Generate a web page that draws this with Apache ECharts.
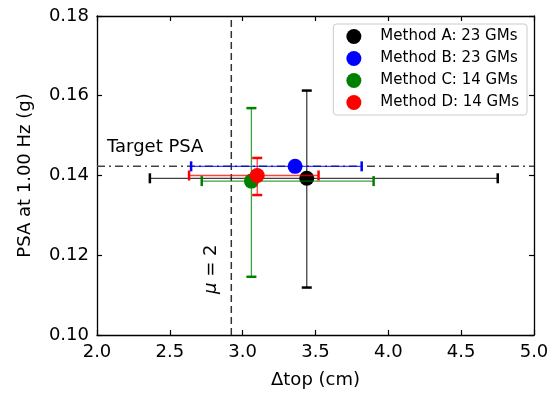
<!DOCTYPE html>
<html><head><meta charset="utf-8">
<script src="https://cdn.jsdelivr.net/npm/echarts@6/dist/echarts.min.js"></script>
<style>html,body{margin:0;padding:0;background:#fff}#c{width:558px;height:394px}</style>
</head><body><div id="c"></div>
<script>
// Data
const methods = ['Method A: 23 GMs','Method B: 23 GMs','Method C: 14 GMs','Method D: 14 GMs'];
const colors = ['#000000','#0000ff','#008000','#ff0000'];
const xVals = [3.44, 3.36, 3.06, 3.10];
const yVals = [0.1393, 0.1423, 0.1386, 0.1400];
const xLow  = [2.363, 2.646, 2.719, 2.632];
const xHigh = [4.751, 3.817, 3.899, 3.521];
const yLow  = [0.1119, 0.1423, 0.1146, 0.1351];
const yHigh = [0.1613, 0.1423, 0.1569, 0.1444];
const targetPSA = 0.1423;
const mu2 = 2.922;
const xRange = [2.0, 5.0];
const yRange = [0.10, 0.18];

const FONT = 'DejaVu Sans';
const chart = echarts.init(document.getElementById('c'));

function errSeries(i){
  return {
    type:'custom', name: methods[i]+'_err', z: 2+i*2, silent:true,
    data:[[xVals[i], yVals[i], xLow[i], xHigh[i], yLow[i], yHigh[i]]],
    encode:{x:[0,2,3], y:[1,4,5]},
    renderItem:function(params, api){
      const c = api.coord([api.value(0), api.value(1)]);
      const l = api.coord([api.value(2), api.value(1)]);
      const r = api.coord([api.value(3), api.value(1)]);
      const b = api.coord([api.value(0), api.value(4)]);
      const t = api.coord([api.value(0), api.value(5)]);
      const cap = 5;
      const ls = {stroke: colors[i], lineWidth:1.3, opacity:0.75};
      const cs = {stroke: colors[i], lineWidth:2.5};
      const ch = [
        {type:'line', shape:{x1:l[0],y1:c[1],x2:r[0],y2:c[1]}, style:ls},
        {type:'line', shape:{x1:l[0],y1:c[1]-cap,x2:l[0],y2:c[1]+cap}, style:cs},
        {type:'line', shape:{x1:r[0],y1:c[1]-cap,x2:r[0],y2:c[1]+cap}, style:cs}
      ];
      if (Math.abs(t[1]-b[1])>1){
        ch.push({type:'line', shape:{x1:c[0],y1:b[1],x2:c[0],y2:t[1]}, style:ls});
        ch.push({type:'line', shape:{x1:c[0]-cap,y1:b[1],x2:c[0]+cap,y2:b[1]}, style:cs});
        ch.push({type:'line', shape:{x1:c[0]-cap,y1:t[1],x2:c[0]+cap,y2:t[1]}, style:cs});
      }
      return {type:'group', children: ch};
    }
  };
}
function ptSeries(i){
  return {
    type:'scatter', name: methods[i], z: 3+i*2, symbol:'circle', symbolSize:15,
    itemStyle:{color: colors[i], opacity:1},
    data:[[xVals[i], yVals[i]]]
  };
}

const series = [];
series.push({
  type:'line', name:'target', silent:true, z:1, symbol:'none', animation:false,
  data:[[xRange[0], targetPSA],[xRange[1], targetPSA]],
  lineStyle:{color:'#444', type:[8,4,2,4], width:1.5}
});
series.push({
  type:'line', name:'mu', silent:true, z:1, symbol:'none', animation:false,
  data:[[mu2, yRange[0]],[mu2, yRange[1]]],
  lineStyle:{color:'#333', type:[7,4], width:1.5}
});
for (let i=0;i<4;i++){ series.push(errSeries(i)); series.push(ptSeries(i)); }

const axisCommon = {
  axisLine:{show:true, lineStyle:{color:'#000', width:1.3}},
  axisTick:{show:true, inside:true, length:5, lineStyle:{color:'#000', width:1.2}},
  splitLine:{show:false}
};

chart.setOption({
  animation:false,
  textStyle:{fontFamily:FONT},
  grid:{left:97, right:24, top:16, bottom:58},
  legend:{
    data: methods, orient:'vertical', right:31, top:24,
    icon:'circle', itemWidth:15, itemHeight:15, itemGap:7,
    textStyle:{fontFamily:FONT, fontSize:15, color:'#000', padding:[0,0,0,14]},
    backgroundColor:'rgba(255,255,255,0.8)', borderColor:'#ccc', borderWidth:1, borderRadius:3,
    padding:[5,8,5,13]
  },
  xAxis:[
    Object.assign({type:'value', min:xRange[0], max:xRange[1], interval:0.5, position:'bottom',
      name:'Δtop (cm)', nameLocation:'middle', nameGap:36,
      nameTextStyle:{fontFamily:FONT, fontSize:18, color:'#000'},
      axisLabel:{fontFamily:FONT, fontSize:18, color:'#000', margin:8,
        formatter:v=>v.toFixed(1)}}, axisCommon),
    Object.assign({type:'value', min:xRange[0], max:xRange[1], interval:0.5, position:'top',
      axisLabel:{show:false}}, axisCommon)
  ],
  yAxis:[
    Object.assign({type:'value', min:yRange[0], max:yRange[1], interval:0.02, position:'left',
      name:'PSA at 1.00 Hz (g)', nameLocation:'middle', nameGap:63,
      nameTextStyle:{fontFamily:FONT, fontSize:18, color:'#000'},
      axisLabel:{fontFamily:FONT, fontSize:18, color:'#000', margin:8,
        formatter:v=>v.toFixed(2)}}, axisCommon),
    Object.assign({type:'value', min:yRange[0], max:yRange[1], interval:0.02, position:'right',
      axisLabel:{show:false}}, axisCommon)
  ],
  series: series
});

const tp = chart.convertToPixel({xAxisIndex:0, yAxisIndex:0}, [xRange[0], targetPSA]);
const mp = chart.convertToPixel({xAxisIndex:0, yAxisIndex:0}, [mu2, 0.1165]);
chart.setOption({
  graphic:[
    {type:'text', left: tp[0]+10, top: tp[1]-28, z:100,
      style:{text:'Target PSA', font:'18px "DejaVu Sans"', fill:'#000'}},
    {type:'text', x: mp[0]-20, y: mp[1], rotation: Math.PI/2, z:100,
      style:{text:'{i|μ} = 2', font:'18px "DejaVu Sans"', fill:'#000', align:'center', verticalAlign:'middle',
        rich:{i:{fontStyle:'italic', fontSize:18, fontFamily:FONT}}}}
  ]
});
</script></body></html>
